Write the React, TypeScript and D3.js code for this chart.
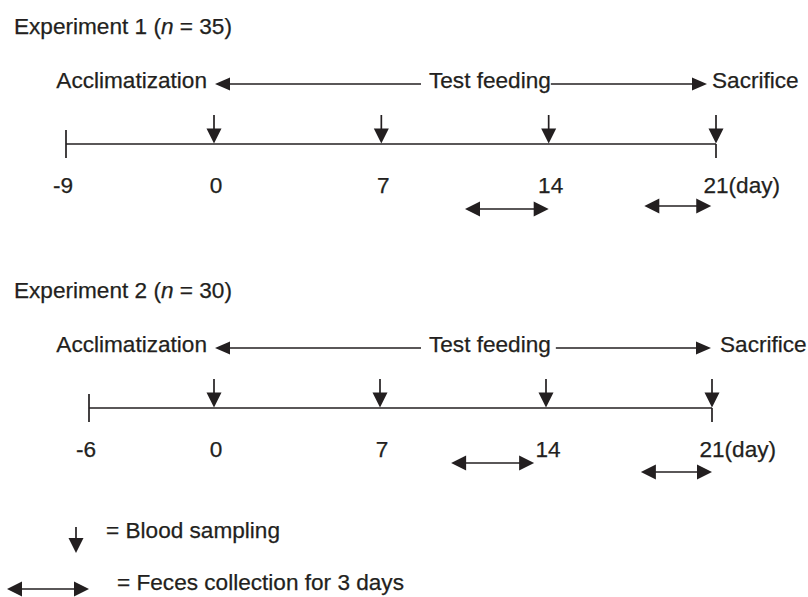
import { useEffect, useRef } from "react";
import * as d3 from "d3";

// data
const EXPERIMENTS = ["Experiment 1", "Experiment 2"];
const GROUP_N = [35, 30];
const ACCLIM_START = [-9, -6];
const SAMPLE_DAYS = [0, 7, 14, 21];
const FECES_PERIODS = [
  [
    [10.5, 14],
    [18, 20.8],
  ],
  [
    [10, 13.5],
    [18, 21],
  ],
];
const PHASES = ["Acclimatization", "Test feeding", "Sacrifice"];
const LEGEND = ["= Blood sampling", "= Feces collection for 3 days"];

const W = 808;
const H = 597;
const INK = "#231f20";
const FONT = "'Liberation Sans', Arial, Helvetica, sans-serif";
const FS = 22.6;

// layout per experiment block
const LAYOUT = [
  { axisY: 144, startX: 66, zeroX: 214, endX: 716, fecesDy: [65, 62], tipGap: 9, sacDx: -4, lineGap: 0 },
  { axisY: 408, startX: 89, zeroX: 214, endX: 712, fecesDy: [55, 64], tipGap: 1, sacDx: 8, lineGap: 5 },
];

export default function App() {
  const ref = useRef<SVGSVGElement | null>(null);

  useEffect(() => {
    const el = ref.current;
    if (!el) return;
    const svg = d3.select(el);
    svg.selectAll("*").remove();

    const text = (g: any, x: number, y: number, s: string, anchor = "start") =>
      g
        .append("text")
        .attr("x", x)
        .attr("y", y)
        .attr("text-anchor", anchor)
        .attr("font-family", FONT)
        .attr("font-size", FS)
        .attr("fill", INK)
        .attr("stroke", INK)
        .attr("stroke-width", 0.25)
        .text(s);

    const line = (g: any, x1: number, y1: number, x2: number, y2: number) =>
      g
        .append("line")
        .attr("x1", x1)
        .attr("y1", y1)
        .attr("x2", x2)
        .attr("y2", y2)
        .attr("stroke", INK)
        .attr("stroke-width", 1.7);

    const tri = (g: any, pts: [number, number][]) =>
      g.append("path").attr("d", "M" + pts.map((p) => p.join(",")).join("L") + "Z").attr("fill", INK);

    // down arrow with tip at (x, yTip)
    const downArrow = (g: any, x: number, yTop: number, yTip: number) => {
      line(g, x, yTop, x, yTip - 12);
      tri(g, [
        [x - 7.5, yTip - 15],
        [x + 7.5, yTip - 15],
        [x, yTip],
      ]);
    };

    // horizontal arrow heads
    const leftHead = (g: any, x: number, y: number, len = 15, hh = 7.5) =>
      tri(g, [
        [x, y],
        [x + len, y - hh],
        [x + len, y + hh],
      ]);
    const rightHead = (g: any, x: number, y: number, len = 15, hh = 7.5) =>
      tri(g, [
        [x, y],
        [x - len, y - hh],
        [x - len, y + hh],
      ]);

    const doubleArrow = (g: any, x1: number, x2: number, y: number) => {
      line(g, x1 + 10, y, x2 - 10, y);
      leftHead(g, x1, y);
      rightHead(g, x2, y);
    };

    EXPERIMENTS.forEach((name, i) => {
      const L = LAYOUT[i];
      const g = svg.append("g");
      const x = d3
        .scaleLinear()
        .domain([ACCLIM_START[i], 0, SAMPLE_DAYS[SAMPLE_DAYS.length - 1]])
        .range([L.startX, L.zeroX, L.endX]);
      const y0 = L.axisY;

      // title
      const t = text(g, 14, y0 - 110, `${name} (`);
      t.append("tspan").attr("font-style", "italic").text("n");
      t.append("tspan").text(` = ${GROUP_N[i]})`);

      // phase header
      const hy = y0 - 60;
      const x0 = x(0);
      const x21 = x(SAMPLE_DAYS[SAMPLE_DAYS.length - 1]);
      text(g, x0 - 7, hy + 4, PHASES[0], "end");
      const tf = text(g, x0 + 215, hy + 4, PHASES[1]);
      const tfW = (tf.node() as SVGTextElement).getComputedTextLength();
      line(g, x0 + 10, hy, x0 + 207, hy);
      leftHead(g, x0 + 1, hy, 15, 6.5);
      line(g, x0 + 215 + tfW + L.lineGap, hy, x21 - L.tipGap - 10, hy);
      rightHead(g, x21 - L.tipGap, hy, 15, 6.5);
      text(g, x21 + L.sacDx, hy + 4, PHASES[2]);

      // timeline
      line(g, L.startX, y0, x21, y0);
      line(g, L.startX, y0 - 14, L.startX, y0 + 14);
      line(g, x21, y0, x21, y0 + 14);

      // blood sampling arrows
      SAMPLE_DAYS.forEach((d) => downArrow(g, x(d), y0 - 29, y0 - 0.5));

      // tick labels
      const ly = y0 + 49;
      text(g, x(ACCLIM_START[i]) - 3, ly, String(ACCLIM_START[i]), "middle");
      SAMPLE_DAYS.forEach((d, k) => {
        const isLast = k === SAMPLE_DAYS.length - 1;
        const lab = text(g, x(d) + (isLast ? 0 : 2), ly, String(d), "middle");
        if (isLast) {
          const w = (lab.node() as SVGTextElement).getComputedTextLength();
          text(g, x(d) + w / 2, ly, "(day)");
        }
      });

      // feces collection
      FECES_PERIODS[i].forEach(([a, b], k) => doubleArrow(g, x(a), x(b), y0 + L.fecesDy[k]));
    });

    // legend
    const lg = svg.append("g");
    downArrow(lg, 76, 527, 553);
    text(lg, 106, 538, LEGEND[0]);
    doubleArrow(lg, 7, 89, 589);
    text(lg, 117, 590, LEGEND[1]);
  }, []);

  return (
    <div style={{ position: "absolute", left: 0, top: 0, width: W, height: H, background: "#fff" }}>
      <svg ref={ref} width={W} height={H} viewBox={`0 0 ${W} ${H}`} />
    </div>
  );
}
